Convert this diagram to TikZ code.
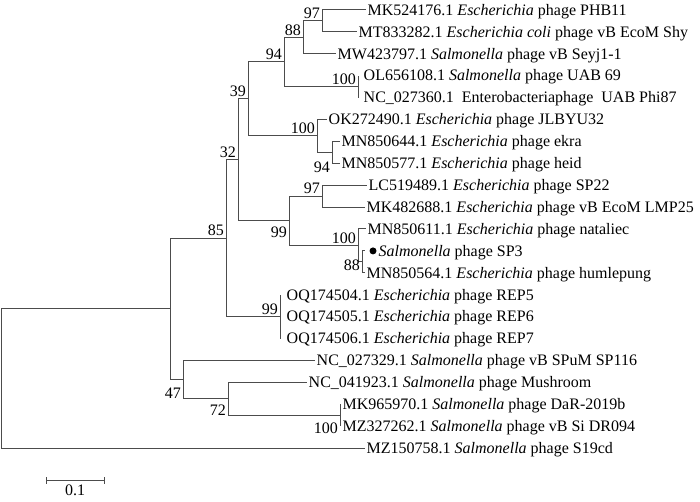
\documentclass[tikz,border=0pt]{standalone}
\usepackage{fontspec}
\setmainfont{Liberation Serif}
\usetikzlibrary{calc}
\begin{document}
\begin{tikzpicture}[x=1pt,y=-1pt,
  font=\fontsize{16}{18}\selectfont,
  branch/.style={draw=black!70, line width=1pt},
  leaf/.style={anchor=base west, inner sep=1.5pt, yshift=-5.3pt},
  bsa/.style={anchor=south east, inner sep=2pt},
  bsb/.style={anchor=north east, inner sep=2pt, yshift=-4pt}]
\useasboundingbox (0,0) rectangle (700,502);
% internal nodes
\coordinate (root) at (1,378.5);
\coordinate (nA) at (170,308.9);
\coordinate (n85) at (226,238.25);
\coordinate (n32) at (238,159.9);
\coordinate (n39) at (248,98.95);
\coordinate (n94) at (284,62);
\coordinate (n88) at (303,37.4);
\coordinate (n97) at (322,21);
\coordinate (nOL) at (358,86.65);
\coordinate (n100a) at (317,135.9);
\coordinate (n94b) at (332,152.35);
\coordinate (n99) at (289,220.8);
\coordinate (n97b) at (322,196.15);
\coordinate (n100b) at (358,245.4);
\coordinate (n88b) at (362,261.85);
\coordinate (nOQ) at (280,316.6);
\coordinate (n47) at (183,379.6);
\coordinate (n72) at (228,398.7);
\coordinate (nMK) at (340,415.15);
% tips
\coordinate (t1) at (366,10);
\coordinate (t2) at (357,31.9);
\coordinate (t3) at (336,53.8);
\coordinate (t4) at (358,75.7);
\coordinate (t5) at (358,97.6);
\coordinate (t6) at (327,119.5);
\coordinate (t7) at (340,141.4);
\coordinate (t8) at (340,163.3);
\coordinate (t9) at (367,185.2);
\coordinate (t10) at (365,207.1);
\coordinate (t11) at (366,229);
\coordinate (t12) at (365,250.9);
\coordinate (t13) at (365,272.8);
\coordinate (t14) at (280,294.7);
\coordinate (t15) at (280,316.6);
\coordinate (t16) at (280,338.5);
\coordinate (t17) at (315,360.4);
\coordinate (t18) at (307,382.3);
\coordinate (t19) at (340,404.2);
\coordinate (t20) at (340,426.1);
\coordinate (t21) at (365,448);
% branches
\draw[branch] (root) |- (nA);
\draw[branch] (root) |- (t21);
\draw[branch] (nA) |- (n85);
\draw[branch] (nA) |- (n47);
\draw[branch] (n85) |- (n32);
\draw[branch] (n85) |- (nOQ);
\draw[branch] (n32) |- (n39);
\draw[branch] (n32) |- (n99);
\draw[branch] (n39) |- (n94);
\draw[branch] (n39) |- (n100a);
\draw[branch] (n94) |- (n88);
\draw[branch] (n94) |- (nOL);
\draw[branch] (n88) |- (n97);
\draw[branch] (n88) |- (t3);
\draw[branch] (n97) |- (t1);
\draw[branch] (n97) |- (t2);
\draw[branch] (nOL) |- (t4);
\draw[branch] (nOL) |- (t5);
\draw[branch] (n100a) |- (t6);
\draw[branch] (n100a) |- (n94b);
\draw[branch] (n94b) |- (t7);
\draw[branch] (n94b) |- (t8);
\draw[branch] (n99) |- (n97b);
\draw[branch] (n99) |- (n100b);
\draw[branch] (n97b) |- (t9);
\draw[branch] (n97b) |- (t10);
\draw[branch] (n100b) |- (t11);
\draw[branch] (n100b) |- (n88b);
\draw[branch] (n88b) |- (t12);
\draw[branch] (n88b) |- (t13);
\draw[branch] (nOQ) |- (t14);
\draw[branch] (nOQ) |- (t16);
\draw[branch] (n47) |- (t17);
\draw[branch] (n47) |- (n72);
\draw[branch] (n72) |- (t18);
\draw[branch] (n72) |- (nMK);
\draw[branch] (nMK) |- (t19);
\draw[branch] (nMK) |- (t20);
% leaf labels
\node[leaf] (L1) at (t1) {MK524176.1 \textit{Escherichia} phage PHB11};
\node[leaf] (L2) at (t2) {MT833282.1 \textit{Escherichia coli} phage vB EcoM Shy};
\node[leaf] (L3) at (t3) {MW423797.1 \textit{Salmonella} phage vB Seyj1-1};
\node[leaf, xshift=4pt] (L4) at (t4) {OL656108.1 \textit{Salmonella} phage UAB 69};
\node[leaf, xshift=4pt] (L5) at (t5) {NC\_027360.1\ \ Enterobacteriaphage\ \ UAB Phi87};
\node[leaf] (L6) at (t6) {OK272490.1 \textit{Escherichia} phage JLBYU32};
\node[leaf] (L7) at (t7) {MN850644.1 \textit{Escherichia} phage ekra};
\node[leaf] (L8) at (t8) {MN850577.1 \textit{Escherichia} phage heid};
\node[leaf] (L9) at (t9) {LC519489.1 \textit{Escherichia} phage SP22};
\node[leaf] (L10) at (t10) {MK482688.1 \textit{Escherichia} phage vB EcoM LMP25};
\node[leaf] (L11) at (t11) {MN850611.1 \textit{Escherichia} phage nataliec};
\node[circle, fill=black, inner sep=0pt, minimum size=7pt] (dot) at (373,250.9) {};
\node[leaf, xshift=12pt] (L12) at (t12) {\textit{Salmonella} phage SP3};
\node[leaf] (L13) at (t13) {MN850564.1 \textit{Escherichia} phage humlepung};
\node[leaf, xshift=5pt] (L14) at (t14) {OQ174504.1 \textit{Escherichia} phage REP5};
\node[leaf, xshift=5pt] (L15) at (t15) {OQ174505.1 \textit{Escherichia} phage REP6};
\node[leaf, xshift=5pt] (L16) at (t16) {OQ174506.1 \textit{Escherichia} phage REP7};
\node[leaf] (L17) at (t17) {NC\_027329.1 \textit{Salmonella} phage vB SPuM SP116};
\node[leaf] (L18) at (t18) {NC\_041923.1 \textit{Salmonella} phage Mushroom};
\node[leaf, xshift=1pt] (L19) at (t19) {MK965970.1 \textit{Salmonella} phage DaR-2019b};
\node[leaf, xshift=1pt] (L20) at (t20) {MZ327262.1 \textit{Salmonella} phage vB Si DR094};
\node[leaf] (L21) at (t21) {MZ150758.1 \textit{Salmonella} phage S19cd};
% bootstrap values
\node[bsa] (b97) at (n97) {97};
\node[bsa] (b88) at (n88) {88};
\node[bsa] (b94) at (n94) {94};
\node[bsa] (b39) at (n39) {39};
\node[bsa] (bOL) at (nOL) {100};
\node[bsa] (b100a) at (n100a) {100};
\node[bsa] (b32) at (n32) {32};
\node[bsb, yshift=-3pt] (b94b) at (n94b) {94};
\node[bsa] (b97b) at (n97b) {97};
\node[bsa] (b85) at (n85) {85};
\node[bsb] (b99) at (n99) {99};
\node[bsa] (b100b) at (n100b) {100};
\node[anchor=east, inner sep=2pt, yshift=-3pt] (b88b) at (n88b) {88};
\node[bsa] (bOQ) at (nOQ) {99};
\node[bsb, yshift=-2pt] (b47) at (n47) {47};
\node[bsb] (b72) at (n72) {72};
\node[bsb, yshift=-2pt] (bMK) at (nMK) {100};
% scale bar
\coordinate (sb1) at (46,480);
\coordinate (sb2) at (104,480);
\coordinate (sbm) at (75,484);
\draw[branch] (sb1) -- (sb2);
\draw[branch] ([yshift=-3.5pt]sb1) -- ([yshift=3.5pt]sb1);
\draw[branch] ([yshift=-3.5pt]sb2) -- ([yshift=3.5pt]sb2);
\node[anchor=north, inner sep=1pt] (sbl) at (sbm) {0.1};
\end{tikzpicture}
\end{document}
